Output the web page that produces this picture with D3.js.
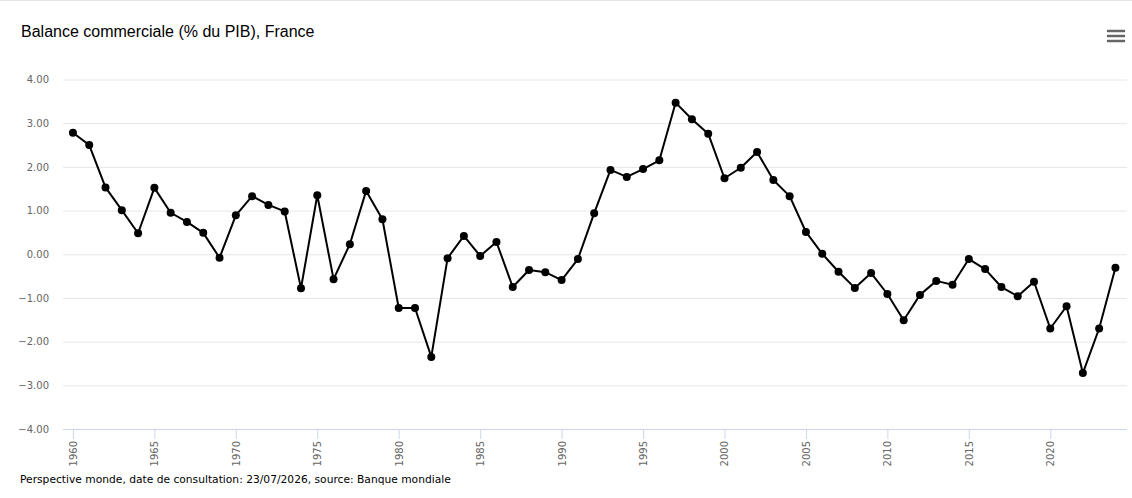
<!DOCTYPE html>
<html>
<head>
<meta charset="utf-8">
<script src="https://cdn.jsdelivr.net/npm/d3@7"></script>
<style>
  html, body { margin: 0; padding: 0; background: #fff; }
  svg { display: block; }
</style>
</head>
<body>
<svg id="chart" width="1132" height="498"></svg>
<script>
const titleText = "Balance commerciale (% du PIB), France";
const footerText = "Perspective monde, date de consultation: 23/07/2026, source: Banque mondiale";
const years = d3.range(1960, 2025);
const values = [
  2.78, 2.50, 1.53, 1.01, 0.48, 1.52, 0.95, 0.74, 0.49, -0.08,
  0.89, 1.33, 1.13, 0.98, -0.78, 1.35, -0.57, 0.23, 1.45, 0.80,
  -1.23, -1.23, -2.35, -0.09, 0.42, -0.04, 0.28, -0.75, -0.36, -0.41,
  -0.59, -0.11, 0.94, 1.93, 1.77, 1.95, 2.15, 3.47, 3.09, 2.76,
  1.74, 1.98, 2.34, 1.70, 1.33, 0.51, 0.01, -0.40, -0.77, -0.43,
  -0.91, -1.51, -0.93, -0.61, -0.70, -0.11, -0.34, -0.75, -0.96, -0.63,
  -1.70, -1.19, -2.72, -1.70, -0.31
];
const yTicks = [-4, -3, -2, -1, 0, 1, 2, 3, 4];
const xTicks = d3.range(1960, 2025, 5);

const svg = d3.select("#chart");
const plotLeft = 63, plotRight = 1127, plotTop = 79.5, plotBottom = 429;

const x = d3.scaleLinear().domain([1959.39, 2024.71]).range([plotLeft, plotRight]);
const y = d3.scaleLinear().domain([-4, 4]).range([plotBottom, plotTop]);

// top border line
svg.append("line").attr("x1", 0).attr("x2", 1132).attr("y1", 0.5).attr("y2", 0.5)
  .attr("stroke", "#e6e6e6").attr("stroke-width", 1);

// title
svg.append("text").attr("x", 21).attr("y", 37)
  .attr("font-family", "'Liberation Sans', Arial, sans-serif").attr("font-size", 16)
  .attr("fill", "#000").text(titleText);

// menu icon
const menu = svg.append("g");
[31, 36, 41].forEach(yy => {
  menu.append("line").attr("x1", 1108).attr("x2", 1124).attr("y1", yy).attr("y2", yy)
    .attr("stroke", "#666").attr("stroke-width", 2.5).attr("stroke-linecap", "round");
});

// grid
const yAxis = d3.axisLeft(y).tickValues(yTicks).tickSize(-(plotRight - plotLeft)).tickFormat(d3.format(".2f"));
const gy = svg.append("g").attr("transform", `translate(${plotLeft},0)`).call(yAxis);
gy.select(".domain").remove();
gy.selectAll(".tick line").attr("stroke", "#e6e6e6").attr("stroke-width", 1);
gy.selectAll(".tick").filter(d => d === -4).select("line").remove();
gy.selectAll(".tick text").attr("x", -14).attr("fill", "#666")
  .attr("font-family", "'DejaVu Sans', Verdana, sans-serif").attr("font-size", 10);

// x axis
const xAxis = d3.axisBottom(x).tickValues(xTicks).tickSize(10).tickFormat(d3.format("d"));
const gx = svg.append("g").attr("transform", `translate(0,${plotBottom})`).call(xAxis);
gx.select(".domain").attr("stroke", "#ccd6eb").attr("d", `M${plotLeft},0.5H${plotRight}`);
gx.selectAll(".tick line").attr("stroke", "#ccd6eb");
gx.selectAll(".tick text")
  .attr("fill", "#666").attr("font-family", "'DejaVu Sans', Verdana, sans-serif").attr("font-size", 10)
  .attr("transform", "rotate(-90)").attr("text-anchor", "end")
  .attr("x", -12).attr("y", 0).attr("dy", "0.35em");

// line
const data = years.map((yr, i) => ({ yr, v: values[i] }));
const line = d3.line().x(d => x(d.yr)).y(d => y(d.v));
svg.append("path").datum(data).attr("d", line)
  .attr("fill", "none").attr("stroke", "#000").attr("stroke-width", 2).attr("stroke-linejoin", "round");
svg.append("g").selectAll("circle").data(data).join("circle")
  .attr("cx", d => x(d.yr)).attr("cy", d => y(d.v)).attr("r", 4).attr("fill", "#000");

// footer
svg.append("text").attr("x", 20).attr("y", 483)
  .attr("font-family", "'DejaVu Sans', Verdana, sans-serif").attr("font-size", 10.7)
  .attr("fill", "#000").text(footerText);
</script>
</body>
</html>
